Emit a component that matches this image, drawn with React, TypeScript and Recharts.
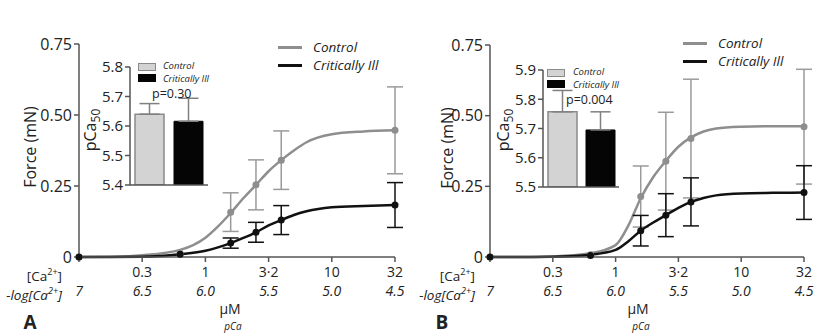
import React from "react";
import { ComposedChart, Line, Scatter, ErrorBar, XAxis, YAxis, BarChart, Bar, Cell } from "recharts";

// x axis: pCa, with the matching [Ca2+] in µM above it
const pcaTicks = [7, 6.5, 6.0, 5.5, 5.0, 4.5];
const caLabels = ["", "0.3", "1", "3·2", "10", "32"];
const pcaLabels = ["7", "6.5", "6.0", "5.5", "5.0", "4.5"];
const forceTicks = [0, 0.25, 0.5, 0.75];

// measured points (mean ± error)
const pointPca = [7, 6.2, 5.8, 5.6, 5.4, 4.5];
const aControlForce = [0, 0.012, 0.158, 0.254, 0.341, 0.446];
const aControlErr = [0, 0, 0.068, 0.088, 0.103, 0.153];
const aIllForce = [0, 0.01, 0.049, 0.087, 0.13, 0.183];
const aIllErr = [0, 0, 0.018, 0.035, 0.051, 0.079];
const bControlForce = [0, 0.008, 0.214, 0.339, 0.419, 0.461];
const bControlErr = [0, 0, 0.108, 0.173, 0.21, 0.203];
const bIllForce = [0, 0.005, 0.093, 0.148, 0.195, 0.228];
const bIllErr = [0, 0, 0.054, 0.076, 0.085, 0.095];

// fitted curves
const curvePca = [7, 6.75, 6.5, 6.2, 6.0, 5.9, 5.8, 5.7, 5.6, 5.5, 5.4, 5.3, 5.2, 5.0, 4.75, 4.5];
const aControlCurve = [0, 0.001, 0.006, 0.025, 0.068, 0.108, 0.155, 0.207, 0.254, 0.302, 0.341, 0.375, 0.404, 0.432, 0.442, 0.446];
const aIllCurve = [0, 0, 0.001, 0.01, 0.022, 0.034, 0.049, 0.067, 0.087, 0.111, 0.13, 0.148, 0.161, 0.175, 0.18, 0.183];
const bControlCurve = [0, 0, 0.002, 0.013, 0.042, 0.11, 0.208, 0.283, 0.34, 0.39, 0.423, 0.444, 0.455, 0.461, 0.463, 0.463];
const bIllCurve = [0, 0, 0.001, 0.008, 0.025, 0.055, 0.093, 0.122, 0.148, 0.174, 0.195, 0.209, 0.218, 0.225, 0.227, 0.228];

// inset: pCa50
const groups = ["Control", "Critically Ill"];
const aPca50 = [5.64, 5.616];
const aPca50Err = [0.036, 0.078];
const bPca50 = [5.757, 5.695];
const bPca50Err = [0.073, 0.062];
const aPca50Ticks = [5.4, 5.5, 5.6, 5.7, 5.8];
const bPca50Ticks = [5.5, 5.6, 5.7, 5.8, 5.9];

const GRAY = "#8e8e8e";
const BLACK = "#111";
const AXIS = "#555";
const TEXT = "#222";
const FONT = "'Open Sans', sans-serif";

const toPoints = (ys: number[], errs: number[]) =>
  pointPca.map((pca, i) => ({ pca, y: ys[i], err: errs[i] }));
const toCurve = (ys: number[]) => curvePca.map((pca, i) => ({ pca, y: ys[i] }));
const toBars = (vals: number[], errs: number[]) =>
  groups.map((name, i) => ({ name, v: vals[i], err: [0, errs[i]] }));

function PcaTick(props: any) {
  const { x, y, payload } = props;
  const i = pcaTicks.indexOf(payload.value);
  return (
    <g>
      <text x={x} y={y + 13} textAnchor="middle" fontSize={14} fill={TEXT}>
        {caLabels[i]}
      </text>
      <text x={x} y={y + 32} textAnchor="middle" fontSize={14} fontStyle="italic" fill={TEXT}>
        {pcaLabels[i]}
      </text>
    </g>
  );
}

const dot = (color: string) => (p: any) => <circle cx={p.cx} cy={p.cy} r={3.5} fill={color} />;

interface PanelProps {
  left: number;
  width: number;
  letter: string;
  margin: { top: number; right: number; bottom: number; left: number };
  control: { x: number[]; e: number[]; c: number[] };
  ill: { x: number[]; e: number[]; c: number[] };
  inset: { left: number; top: number; width: number; height: number; domain: [number, number]; ticks: number[]; vals: number[]; errs: number[] };
  pText: string;
  pPos: { x: number; y: number };
  legendPos: { x: number; y: number; tx: number };
  insetLegend: { x: number; y: number; tx: number; t1: number; t2: number };
  labels: { forceX: number; forceY: number; pcaX: number; pcaY: number; caRight: number; umX: number; letterX: number };
}

function Panel(p: PanelProps) {
  const abs = (style: React.CSSProperties): React.CSSProperties => ({ position: "absolute", whiteSpace: "nowrap", color: TEXT, ...style });
  return (
    <div style={{ position: "absolute", left: p.left, top: 0, width: p.width, height: 334 }}>
      <ComposedChart width={p.width} height={334} margin={p.margin}>
        <XAxis
          type="number"
          dataKey="pca"
          domain={[4.5, 7]}
          reversed
          ticks={pcaTicks}
          interval={0}
          height={45}
          tickSize={5}
          tickMargin={2}
          tick={<PcaTick />}
          stroke={AXIS}
          strokeWidth={1.5}
        />
        <YAxis
          type="number"
          dataKey="y"
          domain={[0, 0.75]}
          ticks={forceTicks}
          interval={0}
          width={50}
          tickSize={5}
          tickMargin={2}
          tickFormatter={(v: number) => (v === 0 ? "0" : v.toFixed(2))}
          tick={{ fontSize: 16, fill: TEXT }}
          stroke={AXIS}
          strokeWidth={1.5}
        />
        <Line data={toCurve(p.control.c)} dataKey="y" type="monotone" stroke={GRAY} strokeWidth={2.5} dot={false} isAnimationActive={false} />
        <Scatter data={toPoints(p.control.x, p.control.e)} dataKey="y" fill={GRAY} shape={dot(GRAY)} isAnimationActive={false}>
          <ErrorBar dataKey="err" direction="y" width={8} stroke="#9a9a9a" strokeWidth={1.5} />
        </Scatter>
        <Line data={toCurve(p.ill.c)} dataKey="y" type="monotone" stroke={BLACK} strokeWidth={2.5} dot={false} isAnimationActive={false} />
        <Scatter data={toPoints(p.ill.x, p.ill.e)} dataKey="y" fill={BLACK} shape={dot(BLACK)} isAnimationActive={false}>
          <ErrorBar dataKey="err" direction="y" width={8} stroke={BLACK} strokeWidth={1.5} />
        </Scatter>
      </ComposedChart>

      {/* inset bar chart */}
      <div style={{ position: "absolute", left: p.inset.left, top: p.inset.top }}>
        <BarChart
          width={p.inset.width}
          height={p.inset.height}
          data={toBars(p.inset.vals, p.inset.errs)}
          margin={{ top: 10, right: 7, bottom: 12, left: 0 }}
          barSize={29}
        >
          <XAxis dataKey="name" tick={false} tickLine={false} height={2} stroke={AXIS} strokeWidth={1.5} />
          <YAxis
            type="number"
            domain={p.inset.domain}
            ticks={p.inset.ticks}
            interval={0}
            allowDataOverflow
            width={35}
            tickSize={5}
            tickMargin={2}
            tickFormatter={(v: number) => v.toFixed(1)}
            tick={{ fontSize: 15, fill: TEXT }}
            stroke={AXIS}
            strokeWidth={1.5}
          />
          <Bar dataKey="v" isAnimationActive={false}>
            <Cell fill="#d3d3d3" stroke="#8a8a8a" strokeWidth={1.5} />
            <Cell fill="#050505" stroke="#050505" />
            <ErrorBar dataKey="err" width={10} stroke="#808080" strokeWidth={1.5} />
          </Bar>
        </BarChart>
      </div>

      {/* inset legend */}
      <div style={abs({ left: p.insetLegend.x, top: p.insetLegend.y, width: 16, height: 6, background: "#d3d3d3", border: "1px solid #8a8a8a" })} />
      <div style={abs({ left: p.insetLegend.x, top: p.insetLegend.y + 11, width: 18, height: 8, background: "#050505" })} />
      <div style={abs({ left: p.insetLegend.tx, top: p.insetLegend.t1 - 5.5, fontSize: 9.5, fontStyle: "italic", lineHeight: "11px" })}>{groups[0]}</div>
      <div style={abs({ left: p.insetLegend.tx, top: p.insetLegend.t2 - 5.5, fontSize: 9.5, fontStyle: "italic", lineHeight: "11px" })}>{groups[1]}</div>
      <div style={abs({ left: p.pPos.x, top: p.pPos.y - 6.5, fontSize: 12.5, lineHeight: "13px" })}>{p.pText}</div>

      {/* main legend */}
      <div style={abs({ left: p.legendPos.x, top: p.legendPos.y - 1, width: 24, height: 2.5, background: GRAY })} />
      <div style={abs({ left: p.legendPos.x, top: p.legendPos.y + 17, width: 24, height: 2.5, background: BLACK })} />
      <div style={abs({ left: p.legendPos.tx, top: p.legendPos.y - 8, fontSize: 13.5, fontStyle: "italic", lineHeight: "16px" })}>{groups[0]}</div>
      <div style={abs({ left: p.legendPos.tx, top: p.legendPos.y + 10, fontSize: 13.5, fontStyle: "italic", lineHeight: "16px" })}>{groups[1]}</div>

      {/* axis titles */}
      <div style={abs({ left: p.labels.forceX, top: p.labels.forceY, fontSize: 16, transform: "translate(-50%, -50%) rotate(-90deg)" })}>Force (mN)</div>
      <div style={abs({ left: p.labels.pcaX, top: p.labels.pcaY, fontSize: 16, transform: "translate(-50%, -50%) rotate(-90deg)" })}>
        pCa<span style={{ fontSize: 12, position: "relative", top: 4 }}>50</span>
      </div>
      <div style={abs({ left: 0, width: p.labels.caRight, top: 263, fontSize: 13.5, textAlign: "right", lineHeight: "18px" })}>
        [Ca<sup style={{ fontSize: 9 }}>2+</sup>]
      </div>
      <div style={abs({ left: 0, width: p.labels.caRight, top: 282, fontSize: 13.5, fontStyle: "italic", textAlign: "right", lineHeight: "18px" })}>
        -log[Ca<sup style={{ fontSize: 9 }}>2+</sup>]
      </div>
      <div style={abs({ left: p.labels.umX, top: 308, fontSize: 14, transform: "translate(-50%, -50%)" })}>µM</div>
      <div style={abs({ left: p.labels.umX + 3, top: 326, fontSize: 10, fontStyle: "italic", transform: "translate(-50%, -50%)" })}>pCa</div>
      <div style={abs({ left: p.labels.letterX, top: 322, fontSize: 19, fontWeight: 700, transform: "translate(-50%, -50%)" })}>{p.letter}</div>
    </div>
  );
}

export default function App() {
  return (
    <div style={{ position: "absolute", left: 0, top: 0, width: 816, height: 334, background: "#fff", fontFamily: FONT, overflow: "hidden" }}>
      <Panel
        left={0}
        width={410}
        letter="A"
        margin={{ top: 44, right: 15, bottom: 32, left: 29 }}
        control={{ x: aControlForce, e: aControlErr, c: aControlCurve }}
        ill={{ x: aIllForce, e: aIllErr, c: aIllCurve }}
        inset={{ left: 95, top: 57, width: 120, height: 142, domain: [5.4, 5.8], ticks: aPca50Ticks, vals: aPca50, errs: aPca50Err }}
        pText="p=0.30"
        pPos={{ x: 152, y: 93 }}
        legendPos={{ x: 278, y: 47, tx: 313 }}
        insetLegend={{ x: 138, y: 63, tx: 163, t1: 65.5, t2: 78.5 }}
        labels={{ forceX: 30, forceY: 147, pcaX: 90, pcaY: 130, caRight: 62, umX: 230, letterX: 30 }}
      />
      <Panel
        left={410}
        width={406}
        letter="B"
        margin={{ top: 45, right: 12, bottom: 32, left: 30 }}
        control={{ x: bControlForce, e: bControlErr, c: bControlCurve }}
        ill={{ x: bIllForce, e: bIllErr, c: bIllCurve }}
        inset={{ left: 98, top: 60, width: 118, height: 141, domain: [5.5, 5.9], ticks: bPca50Ticks, vals: bPca50, errs: bPca50Err }}
        pText="p=0.004"
        pPos={{ x: 156, y: 99 }}
        legendPos={{ x: 273, y: 43, tx: 308 }}
        insetLegend={{ x: 137, y: 69, tx: 163, t1: 71, t2: 84 }}
        labels={{ forceX: 37, forceY: 148, pcaX: 93, pcaY: 130, caRight: 65, umX: 228, letterX: 32 }}
      />
    </div>
  );
}
